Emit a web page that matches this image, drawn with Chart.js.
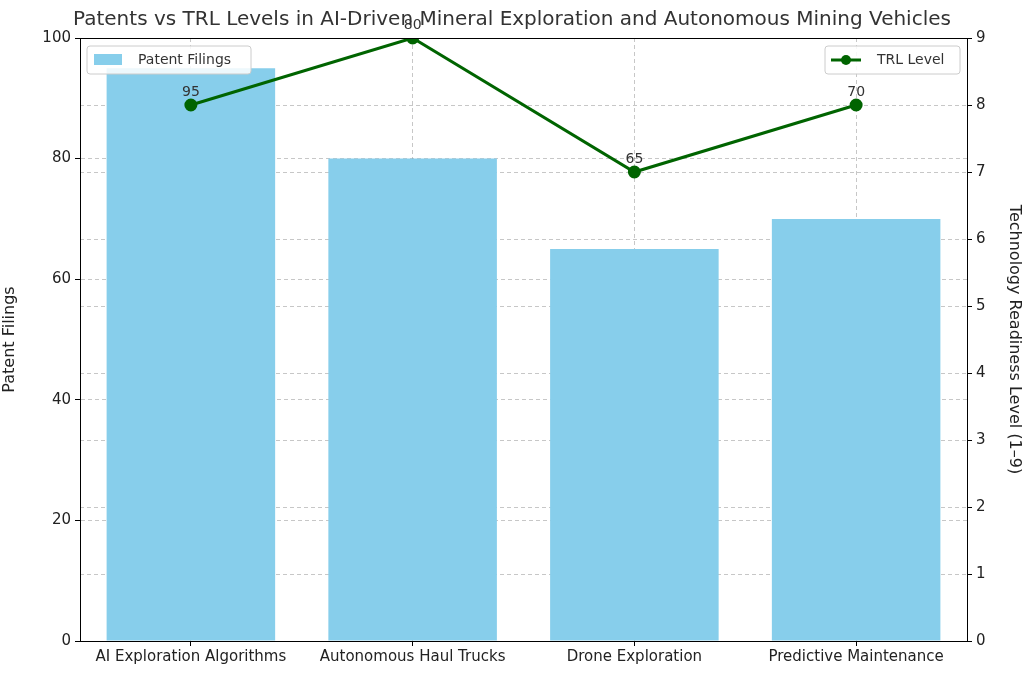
<!DOCTYPE html>
<html>
<head>
<meta charset="utf-8">
<script src="https://cdn.jsdelivr.net/npm/chart.js@4"></script>
<style>
html,body{margin:0;padding:0;background:#fff}
#wrap{width:1024px;height:678px}
</style>
</head>
<body>
<div id="wrap"><canvas id="c" width="1024" height="678"></canvas></div>
<script>
// data
const categories = ['AI Exploration Algorithms', 'Autonomous Haul Trucks', 'Drone Exploration', 'Predictive Maintenance'];
const patentFilings = [95, 80, 65, 70];
const trlLevels = [8, 9, 7, 8];
const patentTicks = [0, 20, 40, 60, 80, 100];

const FONT = 'DejaVu Sans';
const gridCol = 'rgba(0,0,0,0.22)';

const extras = {
    id: 'extras',
    afterDatasetsDraw(chart) {
        const ctx = chart.ctx, a = chart.chartArea;
        const meta = chart.getDatasetMeta(0);
        ctx.save();
        // value labels over bars
        ctx.font = '14px ' + FONT; ctx.fillStyle = '#333'; ctx.textAlign = 'center'; ctx.textBaseline = 'bottom';
        meta.data.forEach(function(bar, i) { ctx.fillText(patentFilings[i], bar.x, bar.y - 6); });
        // frame
        ctx.strokeStyle = '#000'; ctx.lineWidth = 1;
        ctx.strokeRect(a.left + 0.5, a.top + 0.5, a.right - a.left, a.bottom - a.top);
        // title
        ctx.font = '20px ' + FONT; ctx.fillStyle = '#333'; ctx.textBaseline = 'middle';
        ctx.fillText('Patents vs TRL Levels in AI-Driven Mineral Exploration and Autonomous Mining Vehicles', 512, 20);
        // legends
        ctx.font = '14px ' + FONT; ctx.textAlign = 'left';
        function box(x, y, w, h) {
            ctx.fillStyle = 'rgba(255,255,255,0.85)'; ctx.strokeStyle = '#ccc';
            ctx.beginPath(); ctx.roundRect(x, y, w, h, 3); ctx.fill(); ctx.stroke();
        }
        box(87, 46, 164, 28);
        ctx.fillStyle = '#87ceeb'; ctx.fillRect(94, 54, 28, 11);
        ctx.fillStyle = '#333'; ctx.fillText('Patent Filings', 138, 60);
        box(825, 46, 135, 28);
        ctx.strokeStyle = '#006400'; ctx.lineWidth = 3;
        ctx.beginPath(); ctx.moveTo(831, 60); ctx.lineTo(861, 60); ctx.stroke();
        ctx.fillStyle = '#006400'; ctx.beginPath(); ctx.arc(846, 60, 5, 0, Math.PI * 2); ctx.fill();
        ctx.fillStyle = '#333'; ctx.fillText('TRL Level', 877, 60);
        ctx.restore();
    }
};

new Chart(document.getElementById('c'), {
    data: {
        labels: categories,
        datasets: [
            { type: 'line', label: 'TRL Level', data: trlLevels, yAxisID: 'y1', borderColor: '#006400', backgroundColor: '#006400', borderWidth: 3, pointRadius: 5, pointHoverRadius: 5, tension: 0, order: 0 },
            { type: 'bar', label: 'Patent Filings', data: patentFilings, yAxisID: 'y', backgroundColor: '#87ceeb', barPercentage: 0.76, categoryPercentage: 1, order: 1 }
        ]
    },
    options: {
        responsive: false, animation: false,
        layout: { padding: { top: 38, left: 0, right: 0, bottom: 0 } },
        plugins: { legend: { display: false }, title: { display: false }, tooltip: { enabled: false } },
        scales: {
            x: {
                offset: true,
                grid: { color: gridCol, offset: false, drawTicks: true, tickLength: 5, tickColor: '#000' },
                border: { dash: [4, 3], color: '#000' },
                ticks: { color: '#222', font: { family: FONT, size: 15 }, maxRotation: 0, autoSkip: false, padding: 2 },
                afterFit: function(s) { s.height = 37; }
            },
            y: {
                position: 'left', min: 0, max: 100,
                afterBuildTicks: function(s) { s.ticks = patentTicks.map(function(v) { return { value: v }; }); },
                grid: { color: gridCol, tickLength: 5, tickColor: '#000' },
                border: { dash: [4, 3], color: '#000' },
                ticks: { color: '#222', font: { family: FONT, size: 15 }, padding: 4 },
                title: { display: true, text: 'Patent Filings', color: '#222', font: { family: FONT, size: 16 }, padding: 0 },
                afterFit: function(s) { s.width = 80; }
            },
            y1: {
                position: 'right', min: 0, max: 9,
                ticks: { stepSize: 1, color: '#222', font: { family: FONT, size: 15 }, padding: 4 },
                grid: { color: gridCol, tickLength: 5, tickColor: '#000' },
                border: { dash: [4, 3], color: '#000' },
                title: { display: true, text: 'Technology Readiness Level (1–9)', color: '#222', font: { family: FONT, size: 16 }, padding: 0 },
                afterFit: function(s) { s.width = 57; }
            }
        }
    },
    plugins: [extras]
});
</script>
</body>
</html>
